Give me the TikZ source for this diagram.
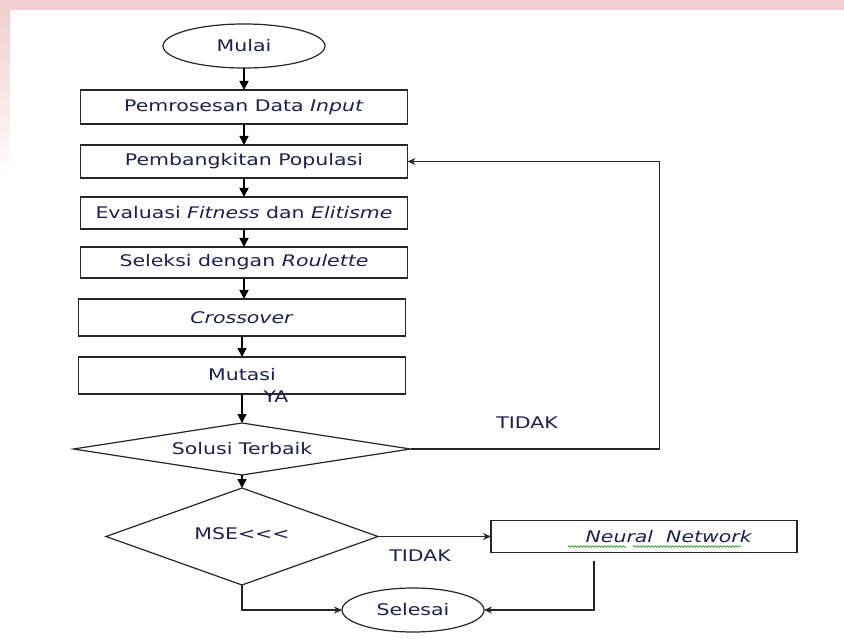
\documentclass[tikz,border=0pt]{standalone}
\usepackage{fontspec}
\setmainfont{DejaVu Sans}[FakeStretch=1.28]
\usepackage{xcolor}
\usepackage{tikz}
\usetikzlibrary{arrows.meta,positioning,calc,shapes.geometric,decorations.pathmorphing}
\definecolor{ink}{HTML}{1C2150}
\definecolor{edge}{HTML}{262626}
\definecolor{spell}{HTML}{3FA535}
\definecolor{blush}{HTML}{F1CFCF}
\newcommand{\flowfont}{\fontsize{16}{19}\selectfont}
\tikzset{
  terminal/.style={
    ellipse,draw=edge,fill=white,line width=1.2pt,
    inner sep=0pt,outer sep=0pt,text=ink,font=\flowfont
  },
  procbox/.style={
    rectangle,draw=edge,fill=white,line width=1.4pt,
    minimum width=327pt,inner sep=0pt,outer sep=0pt,text=ink,font=\flowfont
  },
  decision/.style={
    diamond,draw=edge,fill=white,line width=1.2pt,
    aspect=6,inner sep=0pt,outer sep=0pt,text=ink,font=\flowfont
  },
  lbl/.style={text=ink,font=\flowfont,inner sep=1pt},
  flow/.style={-{Triangle[length=9pt,width=9pt]},draw=black,line width=1.6pt},
  link/.style={-{Stealth[length=8pt,width=7pt]},draw=edge,line width=1.1pt},
  squiggle/.style={draw=spell,line width=.7pt,decorate,
    decoration={snake,amplitude=.9pt,segment length=3pt}}
}

\begin{document}
\begin{tikzpicture}[x=1pt,y=-1pt]
\useasboundingbox (0,0) rectangle (844,639);
% page edge behind the chart
\fill[blush] (0,0) rectangle (844,10);
\shade[top color=blush,bottom color=white] (0,10) rectangle (10,180);

% main column
\node[terminal,minimum width=162pt,minimum height=44pt] (mulai) at (244,46) {Mulai};
\node[procbox,below=22pt of mulai,minimum height=34pt] (input)
  {Pemrosesan Data \textit{Input}};
\node[procbox,below=21pt of input,minimum height=33pt] (populasi)
  {Pembangkitan Populasi};
\node[procbox,below=19pt of populasi,minimum height=32pt] (fitness)
  {Evaluasi \textit{Fitness} dan \textit{Elitisme}};
\node[procbox,below=18pt of fitness,minimum height=31pt] (seleksi)
  {Seleksi dengan \textit{Roulette}};
\node[procbox,below=21pt of seleksi,minimum height=37pt,xshift=-2pt] (crossover)
  {\textit{Crossover}};
\node[procbox,below=21pt of crossover,minimum height=37pt] (mutasi)
  {\raisebox{3pt}{Mutasi}};
\node[decision,below=29pt of mutasi,minimum width=337pt,minimum height=52pt] (solusi)
  {Solusi Terbaik};
\node[decision,below=13pt of solusi,minimum width=272pt,minimum height=97pt] (mse)
  {\raisebox{6pt}{MSE{<}{<}{<}}};
\node[procbox,right=113pt of mse,minimum width=306pt,minimum height=32pt] (nn)
  {\hspace*{50pt}\textit{Neural\ \ Network}};
\node[terminal,minimum width=142pt,minimum height=44pt] (selesai) at (413,610) {Selesai};

% labels
\node[lbl] (ya) at (276,397) {YA};
\node[lbl] (tidakA) at (527,423) {TIDAK};
\node[lbl] (tidakB) at (420,556) {TIDAK};

% spelling marks under the network label
\draw[squiggle] ($(nn.center)+(-76,10)$) -- ++(58,0);
\draw[squiggle] ($(nn.center)+(-11,10)$) -- ++(108,0);

% arrows down the column
\draw[flow] (mulai) -- (input);
\draw[flow] (input) -- (populasi);
\draw[flow] (populasi) -- (fitness);
\draw[flow] (fitness) -- (seleksi);
\draw[flow] (seleksi.south) -- (seleksi.south |- crossover.north);
\draw[flow] (crossover.south) -- (crossover.south |- mutasi.north);
\draw[flow] (mutasi.south) -- (mutasi.south |- solusi.north);
\draw[flow] (solusi) -- (mse);

% loop back and exits
\draw[link] (solusi.east) -- ++(249,0) |- (populasi.east);
\draw[link] (mse.east) -- (nn.west);
\draw[link] (mse.south) |- (selesai.west);
\draw[link,shorten <=8pt] ([xshift=-50pt]nn.south) |- (selesai.east);
\end{tikzpicture}
\end{document}
